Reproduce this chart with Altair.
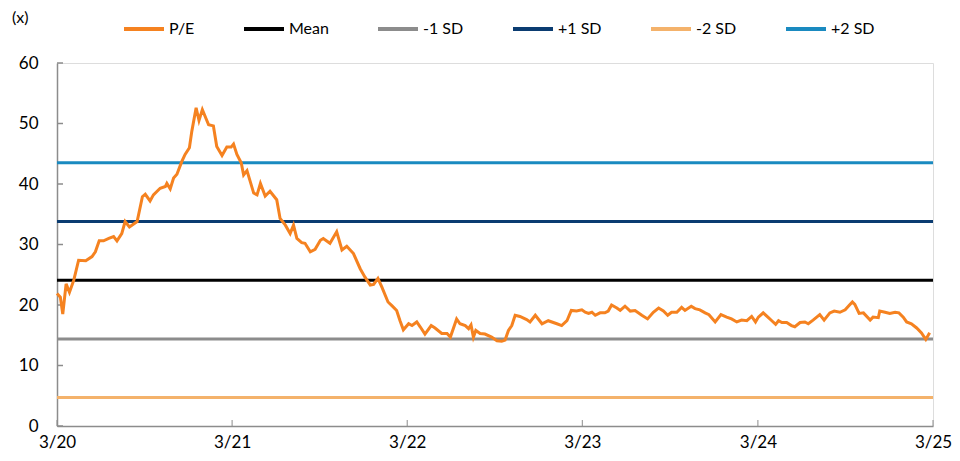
import altair as alt
import pandas as pd

# Trailing P/E multiple, Mar 2020 - Feb 2025
dates = [
    "2020-03-01", "2020-03-08", "2020-03-13", "2020-03-20", "2020-03-27", "2020-04-05", "2020-04-15", "2020-04-30",
    "2020-05-13", "2020-05-20", "2020-05-28", "2020-06-06", "2020-06-17", "2020-06-27", "2020-07-04", "2020-07-14",
    "2020-07-21", "2020-07-30", "2020-08-15", "2020-08-26", "2020-09-01", "2020-09-11", "2020-09-18", "2020-10-02",
    "2020-10-13", "2020-10-16", "2020-10-23", "2020-10-30", "2020-11-06", "2020-11-16", "2020-11-23", "2020-12-02",
    "2020-12-07", "2020-12-16", "2020-12-22", "2020-12-29", "2021-01-11", "2021-01-21", "2021-01-28", "2021-02-08",
    "2021-02-18", "2021-02-27", "2021-03-04", "2021-03-11", "2021-03-20", "2021-03-25", "2021-04-01", "2021-04-15",
    "2021-04-22", "2021-04-29", "2021-05-09", "2021-05-19", "2021-06-02", "2021-06-09", "2021-06-20", "2021-06-30",
    "2021-07-07", "2021-07-14", "2021-07-24", "2021-07-31", "2021-08-11", "2021-08-21", "2021-09-01", "2021-09-07",
    "2021-09-21", "2021-10-05", "2021-10-16", "2021-10-26", "2021-11-09", "2021-11-23", "2021-12-03", "2021-12-14",
    "2021-12-21", "2021-12-30", "2022-01-07", "2022-01-20", "2022-01-28", "2022-02-07", "2022-02-14", "2022-02-21",
    "2022-03-04", "2022-03-11", "2022-03-21", "2022-03-28", "2022-04-07", "2022-04-20", "2022-04-28", "2022-05-12",
    "2022-05-23", "2022-05-30", "2022-06-12", "2022-06-19", "2022-06-30", "2022-07-07", "2022-07-12", "2022-07-17",
    "2022-07-22", "2022-07-31", "2022-08-10", "2022-08-24", "2022-09-04", "2022-09-14", "2022-09-21", "2022-09-28",
    "2022-10-05", "2022-10-12", "2022-10-22", "2022-11-05", "2022-11-12", "2022-11-23", "2022-12-07", "2022-12-20",
    "2023-01-07", "2023-01-17", "2023-01-28", "2023-02-06", "2023-02-17", "2023-02-28", "2023-03-07", "2023-03-14",
    "2023-03-21", "2023-03-28", "2023-04-07", "2023-04-17", "2023-04-24", "2023-05-01", "2023-05-12", "2023-05-19",
    "2023-05-29", "2023-06-09", "2023-06-19", "2023-07-03", "2023-07-15", "2023-07-27", "2023-08-07", "2023-08-17",
    "2023-08-26", "2023-09-03", "2023-09-14", "2023-09-24", "2023-10-01", "2023-10-14", "2023-10-22", "2023-11-01",
    "2023-11-12", "2023-11-20", "2023-12-03", "2023-12-15", "2023-12-27", "2024-01-06", "2024-01-17", "2024-01-27",
    "2024-02-07", "2024-02-17", "2024-02-25", "2024-03-02", "2024-03-12", "2024-03-23", "2024-03-30", "2024-04-07",
    "2024-04-13", "2024-04-20", "2024-04-30", "2024-05-10", "2024-05-17", "2024-05-28", "2024-06-07", "2024-06-14",
    "2024-06-24", "2024-07-08", "2024-07-17", "2024-07-29", "2024-08-07", "2024-08-19", "2024-08-30", "2024-09-07",
    "2024-09-14", "2024-09-19", "2024-09-28", "2024-10-07", "2024-10-21", "2024-10-27", "2024-11-07", "2024-11-10",
    "2024-11-21", "2024-12-01", "2024-12-12", "2024-12-20", "2024-12-29", "2025-01-05", "2025-01-15", "2025-01-26",
    "2025-02-05", "2025-02-14", "2025-02-22",
]
pe = [
    21.9, 21.3, 18.5, 23.5, 22.1, 24.1, 27.4, 27.3,
    28.0, 28.8, 30.6, 30.6, 31.0, 31.3, 30.6, 31.8,
    33.8, 32.9, 33.8, 37.9, 38.3, 37.2, 38.2, 39.3,
    39.6, 40.1, 39.2, 41.0, 41.6, 43.7, 44.9, 46.0,
    48.7, 52.6, 50.5, 52.3, 49.8, 49.6, 46.2, 44.7,
    46.1, 46.1, 46.6, 44.9, 43.5, 41.5, 42.2, 38.5,
    38.2, 40.1, 38.0, 38.8, 37.4, 34.3, 33.2, 31.8,
    33.2, 31.0, 30.3, 30.2, 28.8, 29.2, 30.7, 31.0,
    30.2, 32.1, 29.1, 29.7, 28.5, 26.0, 24.6, 23.3,
    23.4, 24.4, 23.0, 20.5, 19.9, 19.1, 17.4, 15.9,
    16.9, 16.6, 17.2, 16.4, 15.2, 16.6, 16.2, 15.3,
    15.3, 14.7, 17.7, 16.9, 16.6, 16.1, 16.7, 14.7,
    15.8, 15.3, 15.2, 14.7, 14.1, 14.0, 14.2, 15.8,
    16.6, 18.3, 18.1, 17.6, 17.2, 18.3, 16.9, 17.4,
    16.9, 16.6, 17.4, 19.1, 19.0, 19.2, 18.8, 18.6,
    18.8, 18.3, 18.7, 18.7, 19.0, 20.0, 19.5, 19.1,
    19.8, 19.0, 19.1, 18.3, 17.7, 18.8, 19.5, 19.0,
    18.3, 18.8, 18.8, 19.6, 19.1, 19.8, 19.4, 19.2,
    18.7, 18.4, 17.2, 18.4, 18.0, 17.7, 17.2, 17.5,
    17.4, 18.1, 17.2, 18.0, 18.7, 17.9, 17.4, 16.8,
    17.4, 17.1, 17.1, 16.6, 16.4, 17.1, 17.2, 16.9,
    17.5, 18.4, 17.5, 18.7, 19.0, 18.8, 19.2, 19.9,
    20.5, 20.1, 18.6, 18.7, 17.5, 18.0, 17.9, 19.0,
    18.8, 18.6, 18.8, 18.7, 18.0, 17.2, 16.9, 16.2,
    15.4, 14.3, 15.4,
]

# Mean and standard-deviation bands
band_names = ["Mean", "-1 SD", "+1 SD", "-2 SD", "+2 SD"]
band_values = [24.1, 14.4, 33.8, 4.7, 43.5]

series_order = ["P/E", "Mean", "-1 SD", "+1 SD", "-2 SD", "+2 SD"]
series_colors = ["#F58220", "#000000", "#8C8C8C", "#0B3C71", "#F4B26B", "#1A8AC0"]

y_ticks = [0, 10, 20, 30, 40, 50, 60]
x_ticks = ["2020-03-01", "2021-03-01", "2022-03-01", "2023-03-01", "2024-03-01", "2025-03-01"]
unit_label = ["(x)"]

FONT = "Lato"
AXIS_GREY = "#8C8C8C"

pe_df = pd.DataFrame({"date": dates, "value": pe, "series": "P/E"})
band_df = pd.DataFrame({"series": band_names, "value": band_values})
ytick_df = pd.DataFrame({"value": y_ticks})
xtick_df = pd.DataFrame({"date": x_ticks})
unit_df = pd.DataFrame({"text": unit_label})

x_scale = alt.Scale(type="utc", domain=[alt.DateTime(year=2020, month=3, date=1, utc=True),
                                        alt.DateTime(year=2025, month=3, date=1, utc=True)])
y_scale = alt.Scale(domain=[0, 60], nice=False)
color_scale = alt.Scale(domain=series_order, range=series_colors)

x_axis = alt.Axis(
    values=[alt.DateTime(year=y, month=3, date=1, utc=True) for y in range(2020, 2026)],
    labelExpr="utcFormat(datum.value, '%-m/%y')", title=None, grid=False,
    ticks=False, labelPadding=8, labelFontSize=17, labelFont=FONT, labelColor="#000000",
    domainColor=AXIS_GREY, domainWidth=1.5, labelFlush=False,
)
y_axis = alt.Axis(
    values=y_ticks, title=None, grid=False, ticks=False, labelPadding=19,
    labelFontSize=17, labelFont=FONT, labelColor="#000000",
    domainColor=AXIS_GREY, domainWidth=1.5,
)

legend = alt.Legend(
    title=None, orient="none", direction="horizontal", columns=6,
    legendX=65, legendY=-56, symbolType="stroke", symbolSize=1600,
    symbolStrokeWidth=4, labelFont=FONT, labelFontSize=16, labelColor="#000000",
    labelOffset=3, columnPadding=41,
)

bands = alt.Chart(band_df).mark_rule(strokeWidth=3).encode(
    y=alt.Y("value:Q", scale=y_scale, axis=y_axis),
    color=alt.Color("series:N", scale=color_scale, sort=series_order, legend=legend),
)

pe_line = alt.Chart(pe_df).mark_line(strokeWidth=3, interpolate="linear").encode(
    x=alt.X("date:T", scale=x_scale, axis=x_axis),
    y=alt.Y("value:Q", scale=y_scale),
    color=alt.Color("series:N", scale=color_scale, sort=series_order, legend=legend),
)

# Inward tick marks on both axes
y_tick_marks = alt.Chart(ytick_df).mark_rule(color=AXIS_GREY, strokeWidth=1.5).encode(
    y=alt.Y("value:Q", scale=y_scale),
    x=alt.value(0), x2=alt.value(6),
)
x_tick_marks = alt.Chart(xtick_df).mark_rule(color=AXIS_GREY, strokeWidth=1).encode(
    x=alt.X("date:T", scale=x_scale),
    y=alt.value(363), y2=alt.value(357),
)

# Unit note above the value axis
unit_text = alt.Chart(unit_df).mark_text(
    font=FONT, fontSize=16, color="#000000", align="left", baseline="middle"
).encode(text="text:N", x=alt.value(-45), y=alt.value(-45))

chart = alt.layer(bands, y_tick_marks, x_tick_marks, pe_line, unit_text).properties(
    width=876, height=363,
    autosize=alt.AutoSizeParams(type="none"),
    padding={"left": 57, "top": 63, "right": 27, "bottom": 35},
).configure_view(stroke=None).configure(background="#ffffff")

chart.save("out.html", embed_options={"renderer": "svg", "actions": False})
